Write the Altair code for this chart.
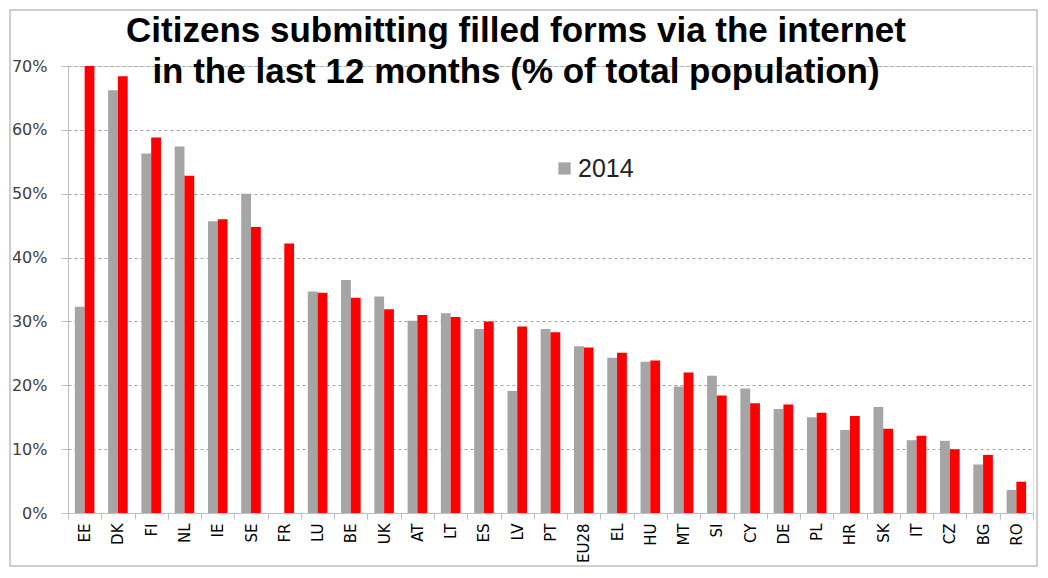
import altair as alt
import pandas as pd

countries = ["EE", "DK", "FI", "NL", "IE", "SE", "FR", "LU", "BE", "UK", "AT", "LT",
             "ES", "LV", "PT", "EU28", "EL", "HU", "MT", "SI", "CY", "DE", "PL", "HR",
             "SK", "IT", "CZ", "BG", "RO"]
v2014 = [32.3, 66.2, 56.3, 57.4, 45.7, 50.0, None, 34.7, 36.5, 33.9, 30.1, 31.3,
         28.8, 19.1, 28.8, 26.1, 24.3, 23.7, 19.8, 21.5, 19.5, 16.3, 15.0, 13.0,
         16.6, 11.4, 11.3, 7.6, 3.6]
v2015 = [70.0, 68.4, 58.8, 52.8, 46.0, 44.8, 42.2, 34.5, 33.7, 31.9, 31.0, 30.7,
         30.0, 29.2, 28.3, 25.9, 25.1, 23.9, 22.0, 18.4, 17.2, 17.0, 15.7, 15.2,
         13.2, 12.1, 10.0, 9.1, 4.9]
years = ["2014", "2015"]
colors = ["#a5a5a5", "#ff0000"]
title_lines = ["Citizens submitting filled forms via the internet",
               "in the last 12 months (% of total population)"]

rows = []
for c, a, b in zip(countries, v2014, v2015):
    rows.append({"country": c, "year": years[0], "value": None if a is None else a / 100})
    rows.append({"country": c, "year": years[1], "value": b / 100})
df = pd.DataFrame(rows)

W, H = 965, 447

bars = alt.Chart(df).mark_bar().encode(
    x=alt.X("country:N", sort=countries, title=None,
            scale=alt.Scale(paddingInner=0, paddingOuter=0),
            axis=alt.Axis(labelAngle=270, labelAlign="right", labelBaseline="middle",
                          labelFont="DejaVu Sans", labelFontSize=15, labelColor="#000000",
                          labelPadding=4, tickBand="extent", tickSize=6,
                          tickColor="#bfbfbf", domainColor="#bfbfbf", grid=False)),
    xOffset=alt.XOffset("year:N", sort=years,
                        scale=alt.Scale(paddingInner=0, paddingOuter=0.7)),
    y=alt.Y("value:Q", title=None,
            scale=alt.Scale(domain=[0, 0.7], nice=False),
            axis=alt.Axis(format=".0%", values=[0, 0.1, 0.2, 0.3, 0.4, 0.5, 0.6, 0.7],
                          labelFont="DejaVu Sans", labelFontSize=16, labelColor="#404040",
                          labelPadding=14, tickSize=7, tickColor="#bfbfbf",
                          domainColor="#bfbfbf", gridColor="#a6a6a6", gridDash=[3, 3],
                          gridWidth=1.2)),
    color=alt.Color("year:N", sort=years,
                    scale=alt.Scale(domain=years, range=colors),
                    legend=alt.Legend(values=["2014"], title=None, orient="none",
                                      legendX=484, legendY=90, symbolType="square",
                                      symbolSize=150, symbolStrokeWidth=0,
                                      labelFont="Liberation Sans", labelFontSize=25,
                                      labelColor="#222222", labelOffset=1)),
)

meta = alt.Data(values=[{}])

t1 = alt.Chart(meta).mark_text(
    text=title_lines[0], font="Liberation Sans", fontSize=35, fontWeight="bold",
    color="#000000", align="center", baseline="alphabetic"
).encode(x=alt.value(448), y=alt.value(-24))

t2 = alt.Chart(meta).mark_text(
    text=title_lines[1], font="Liberation Sans", fontSize=35, fontWeight="bold",
    color="#000000", align="center", baseline="alphabetic"
).encode(x=alt.value(448), y=alt.value(17))

border = alt.Chart(meta).mark_rect(
    fillOpacity=0, stroke="#bfbfbf", strokeWidth=1.5
).encode(x=alt.value(-58), x2=alt.value(W + 4), y=alt.value(-56), y2=alt.value(H + 53))

chart = alt.layer(bars, t1, t2, border).properties(
    width=W, height=H,
    padding={"left": 60, "top": 58, "right": 5, "bottom": 55},
    autosize=alt.AutoSizeParams(type="none"),
).configure_view(stroke=None).configure(background="#ffffff")

chart.save("out.html", embed_options={"renderer": "svg", "actions": False})
